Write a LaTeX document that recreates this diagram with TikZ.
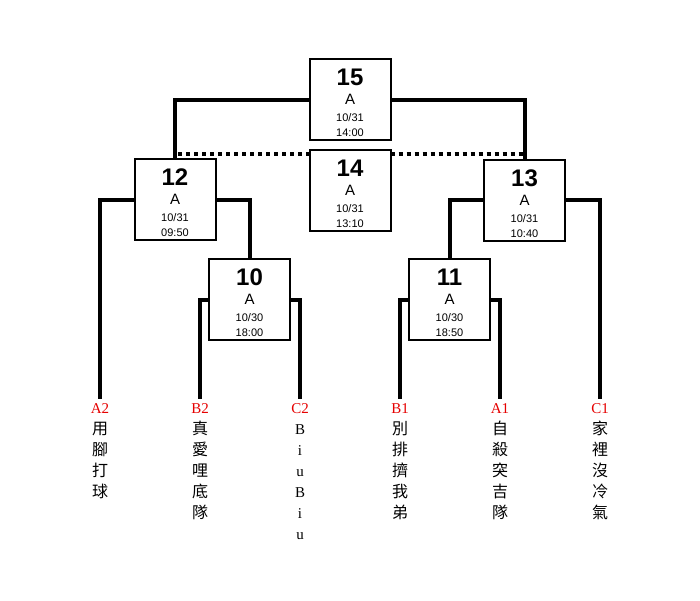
\documentclass[tikz,border=0pt]{standalone}
\usepackage{fontspec}
\usetikzlibrary{calc}
\setmainfont{Liberation Sans}
\newfontfamily\cjk{Noto Sans CJK TC}
\newfontfamily\lat{Liberation Serif}
\definecolor{codered}{RGB}{230,0,0}
\newcommand\matchbox[6]{%
  \node[box] (#1) at (#2,#3) {};
  \node[numtxt, anchor=base] (#1-n) at ($(#1.north)+(0,27.5)$) {#4};
  \node[grptxt, anchor=base] (#1-g) at ($(#1.north)+(0,46.5)$) {A};
  \node[datetxt, anchor=base] (#1-d) at ($(#1.north)+(0,63.5)$) {#5};
  \node[datetxt, anchor=base] (#1-t) at ($(#1.north)+(0,78.5)$) {#6};
}
\newcommand\team[5]{%
  \node[codetxt, anchor=base] (#1) at (#2,413.5) {#3};
  \foreach \c [count=\i] in {#5}
    \node[nametxt, font=#4, anchor=base] (#1-\i) at (#2,{413.5+21*\i}) {\c};
}
\begin{document}
\begin{tikzpicture}[x=1pt,y=-1pt,
  box/.style={draw, line width=2pt, minimum width=81pt, minimum height=81pt, inner sep=0pt, fill=white},
  numtxt/.style={inner sep=0pt, font=\fontsize{24}{24}\selectfont\bfseries},
  grptxt/.style={inner sep=0pt, font=\fontsize{15}{15}\selectfont},
  datetxt/.style={inner sep=0pt, font=\fontsize{11}{11}\selectfont},
  codetxt/.style={inner xsep=0pt, inner ysep=4.5pt, text=codered, font=\lat\fontsize{15}{15}\selectfont},
  nametxt/.style={inner sep=0pt},
  conn/.style={line width=4pt},
  dotconn/.style={line width=4pt, dash pattern=on 4pt off 4pt},
]
\useasboundingbox (0,0) rectangle (700,600);
\fill[white] (0,0) rectangle (700,600);

\coordinate (dl) at (309.5,153.6);
\coordinate (dr) at (390.5,153.6);

\matchbox{b15}{350}{99.5}{15}{10/31}{14:00}
\matchbox{b14}{350}{190}{14}{10/31}{13:10}
\matchbox{b12}{175}{199.5}{12}{10/31}{09:50}
\matchbox{b13}{524.5}{200}{13}{10/31}{10:40}
\matchbox{b10}{249.5}{299.5}{10}{10/30}{18:00}
\matchbox{b11}{449.5}{299.5}{11}{10/30}{18:50}

\team{tA2}{100}{A2}{\cjk\fontsize{16}{16}\selectfont}{用,腳,打,球}
\team{tB2}{200}{B2}{\cjk\fontsize{16}{16}\selectfont}{真,愛,哩,底,隊}
\team{tC2}{300}{C2}{\lat\fontsize{15}{15}\selectfont}{B,i,u,B,i,u}
\team{tB1}{400}{B1}{\cjk\fontsize{16}{16}\selectfont}{別,排,擠,我,弟}
\team{tA1}{500}{A1}{\cjk\fontsize{16}{16}\selectfont}{自,殺,突,吉,隊}
\team{tC1}{600}{C1}{\cjk\fontsize{16}{16}\selectfont}{家,裡,沒,冷,氣}

\draw[conn] (b15.west) -| (b12.north);
\draw[conn] (b15.east) -| (b13.north);
\draw[dotconn] (dl) -- (dl -| b12.north);
\draw[dotconn] (dr) -- (dr -| b13.north);
\draw[conn] (b12.west) -| (tA2.north);
\draw[conn] (b12.east) -| (b10.north);
\draw[conn] (b13.west) -| (b11.north);
\draw[conn] (b13.east) -| (tC1.north);
\draw[conn] (b10.west) -| (tB2.north);
\draw[conn] (b10.east) -| (tC2.north);
\draw[conn] (b11.west) -| (tB1.north);
\draw[conn] (b11.east) -| (tA1.north);
\end{tikzpicture}
\end{document}
